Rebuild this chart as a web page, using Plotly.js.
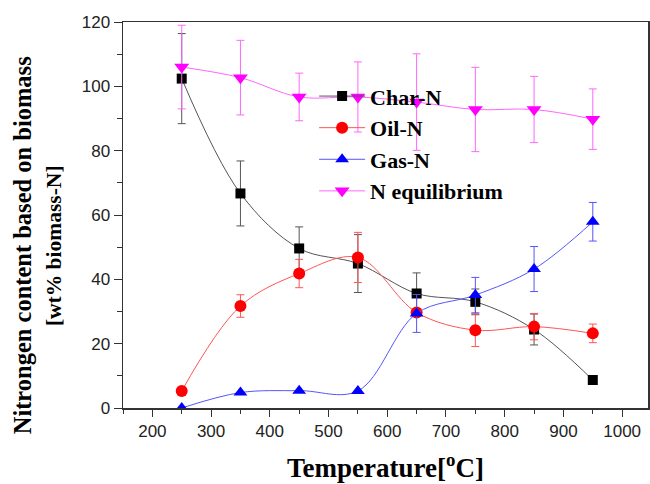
<!DOCTYPE html>
<html>
<head>
<meta charset="utf-8">
<script src="https://cdn.plot.ly/plotly-3.0.1.min.js"></script>
<style>html,body{margin:0;padding:0;background:#fff}#chart{width:650px;height:484px}</style>
</head>
<body>
<div id="chart"></div>
<script>
const temperature = [250, 350, 450, 550, 650, 750, 850, 950];

const charN = [102.4, 66.7, 49.6, 44.9, 35.6, 33.0, 24.4, 8.7];
const charNErr = [14.0, 10.1, 6.7, 9.0, 6.4, 4.0, 4.8, 0];

const oilN = [5.3, 31.7, 41.8, 46.8, 29.7, 24.2, 25.3, 23.2];
const oilNErr = [0, 3.5, 4.4, 7.8, 0, 5.1, 4.1, 2.9];

const gasN = [0, 4.8, 5.4, 5.3, 29.4, 35.1, 43.2, 57.9];
const gasNErr = [0, 0, 0, 0, 5.9, 5.5, 7.0, 6.0];

const nEquilibrium = [106.0, 102.7, 96.7, 96.7, 95.1, 92.8, 92.8, 89.8];
const nEquilibriumErr = [13.0, 11.6, 7.4, 10.9, 15.0, 13.1, 10.3, 9.4];

const seriesNames = ['Char-N', 'Oil-N', 'Gas-N', 'N equilibrium'];
const yTitleLines = ['Nitrongen content based on biomass', '[wt% biomass-N]'];

function mk(name, y, err, color, lineColor, symbol, size) {
  return {
    x: temperature, y: y, name: name, type: 'scatter', mode: 'lines+markers',
    line: {shape: 'spline', smoothing: 1, color: lineColor, width: 1},
    marker: {symbol: symbol, size: size, color: color},
    error_y: {type: 'data', array: err, visible: true, color: lineColor, thickness: 1, width: 4}
  };
}

const data = [
  mk(seriesNames[0], charN, charNErr, '#000000', '#555555', 'square', 10),
  mk(seriesNames[1], oilN, oilNErr, '#ff0000', '#ff5555', 'circle', 12),
  mk(seriesNames[2], gasN, gasNErr, '#0000ff', '#5555ff', 'triangle-up', 12),
  mk(seriesNames[3], nEquilibrium, nEquilibriumErr, '#ff00ff', '#ff66ff', 'triangle-down', 13)
];

const titleFont = {family: 'Liberation Serif', color: '#000', weight: 'bold'};

const layout = {
  width: 650, height: 484,
  margin: {l: 123, r: 2, t: 22, b: 76},
  paper_bgcolor: '#fff', plot_bgcolor: '#fff',
  showlegend: true,
  legend: {x: 0.364, y: 0.862, xanchor: 'left', yanchor: 'top', bgcolor: 'rgba(0,0,0,0)',
    font: {family: 'Liberation Serif', size: 22, color: '#000', weight: 'bold'}, itemwidth: 46},
  xaxis: {
    range: [150, 1044], tickmode: 'linear', tick0: 200, dtick: 100,
    ticks: 'outside', ticklen: 7, tickwidth: 1, tickcolor: '#333',
    minor: {ticks: 'outside', ticklen: 4, dtick: 50, tick0: 250, tickcolor: '#333'},
    showgrid: false, zeroline: false, showline: true, linecolor: '#333', linewidth: 1.5, mirror: true,
    tickfont: {family: 'Liberation Sans', size: 17, color: '#222'},
    title: {text: 'Temperature[<sup>o</sup>C]', standoff: 18,
      font: Object.assign({size: 27}, titleFont)}
  },
  yaxis: {
    range: [0, 120], tickmode: 'linear', tick0: 0, dtick: 20,
    ticks: 'outside', ticklen: 8, tickwidth: 1, tickcolor: '#333',
    minor: {ticks: 'outside', ticklen: 5, dtick: 10, tickcolor: '#333'},
    showgrid: false, zeroline: false, showline: true, linecolor: '#333', linewidth: 1.5, mirror: true,
    tickfont: {family: 'Liberation Sans', size: 17, color: '#222'}
  },
  annotations: [
    {text: yTitleLines[0], xref: 'paper', yref: 'paper', x: -0.192, y: 0.422,
      xanchor: 'center', yanchor: 'middle', textangle: -90, showarrow: false,
      font: Object.assign({size: 24.5}, titleFont)},
    {text: yTitleLines[1], xref: 'paper', yref: 'paper', x: -0.131, y: 0.42,
      xanchor: 'center', yanchor: 'middle', textangle: -90, showarrow: false,
      font: Object.assign({size: 21.5}, titleFont)}
  ]
};

Plotly.newPlot('chart', data, layout, {displayModeBar: false, staticPlot: true});
</script>
</body>
</html>
